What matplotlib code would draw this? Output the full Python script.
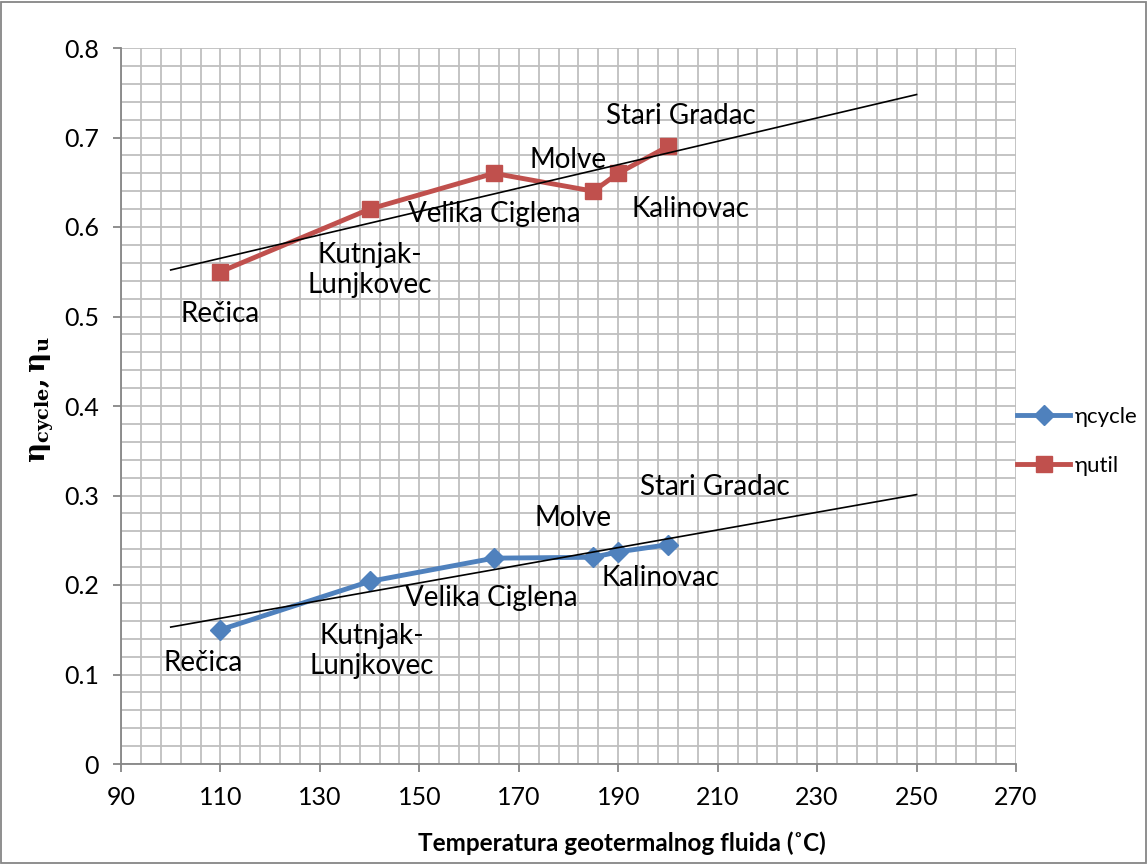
import matplotlib
matplotlib.use("Agg")
import numpy as np
import matplotlib.pyplot as plt
from matplotlib.patches import Rectangle

plt.rcParams["font.family"] = ["Lato", "DejaVu Sans"]
plt.rcParams["mathtext.fontset"] = "dejavuserif"

# data
temp = [110, 140, 165, 185, 190, 200]
eta_cycle = [0.150, 0.204, 0.230, 0.231, 0.237, 0.245]
eta_util = [0.550, 0.620, 0.660, 0.640, 0.660, 0.690]
names = ["Rečica", "Kutnjak-\nLunjkovec", "Velika Ciglena", "Molve",
         "Kalinovac", "Stari Gradac"]

# trend lines (endpoints)
trend_x = [100, 250]
trend_cycle = [0.153, 0.301]
trend_util = [0.552, 0.748]

# label anchor positions (data coords, text centres)
lab_util_x = [110, 140, 165, 180, 204.5, 202.5]
lab_util_y = [0.503, 0.552, 0.615, 0.675, 0.620, 0.724]
lab_cyc_x = [106.5, 140.5, 164.5, 181, 198.5, 209.5]
lab_cyc_y = [0.113, 0.126, 0.185, 0.275, 0.208, 0.310]

C_BLUE = "#4F81BD"
C_RED = "#C0504D"
C_GRID = "#BFBFBF"
C_AXIS = "#868686"

fig = plt.figure(figsize=(11.48, 8.64), dpi=100)
ax = fig.add_axes([121 / 1148, 1 - 764 / 864, (1016 - 121) / 1148,
                   (764 - 48) / 864])

ax.set_xlim(90, 270)
ax.set_ylim(0, 0.8)
ax.set_xticks(np.arange(90, 271, 20))
ax.set_xticks(np.arange(90, 271, 4), minor=True)
ax.set_yticks(np.round(np.arange(0, 0.81, 0.1), 2))
ax.set_yticks(np.round(np.arange(0, 0.81, 0.02), 2), minor=True)
ax.set_yticklabels([f"{v:g}" for v in ax.get_yticks()])
ax.grid(which="both", color=C_GRID, lw=1.3, zorder=0)
ax.set_axisbelow(True)
ax.tick_params(which="minor", length=0)
ax.tick_params(which="major", length=6, width=1.3, color=C_AXIS,
               labelsize=18, pad=10)
for s in ("top", "right"):
    ax.spines[s].set_visible(False)
for s in ("left", "bottom"):
    ax.spines[s].set_color(C_AXIS)
    ax.spines[s].set_linewidth(1.3)

ax.plot(temp, eta_cycle, color=C_BLUE, lw=3.5, marker="D", ms=10,
        label="ηcycle", zorder=3)
ax.plot(temp, eta_util, color=C_RED, lw=3.5, marker="s", ms=12,
        label="ηutil", zorder=3)
ax.plot(trend_x, trend_cycle, color="black", lw=1.2, zorder=4)
ax.plot(trend_x, trend_util, color="black", lw=1.2, zorder=4)

for x, y, t in zip(lab_util_x, lab_util_y, names):
    ax.text(x, y, t, ha="center", va="center", fontsize=20,
            linespacing=1.2, zorder=5)
for x, y, t in zip(lab_cyc_x, lab_cyc_y, names):
    ax.text(x, y, t, ha="center", va="center", fontsize=20,
            linespacing=1.2, zorder=5)

ax.set_xlabel("Temperatura geotermalnog fluida (˚C)", fontsize=17.5,
              fontweight="bold", va="center")
ax.xaxis.set_label_coords((622 - 121) / 895, -(843 - 764) / 716)
fig.text(42 / 1148, 1 - 400 / 864, r"$\mathbf{\eta_{cycle},\eta_u}$",
         rotation=90, ha="center", va="center", fontsize=20)

fig.legend(loc="upper left", bbox_to_anchor=(1008 / 1148, 1 - 398 / 864),
           frameon=False, fontsize=16, handlelength=2.4, handletextpad=0.2,
           labelspacing=1.3, borderaxespad=0)

fig.patches.append(Rectangle((0.001, 0.001), 0.997, 0.997,
                             transform=fig.transFigure, fill=False,
                             edgecolor=C_AXIS, lw=1.3))

fig.savefig("out.png", dpi=100)
